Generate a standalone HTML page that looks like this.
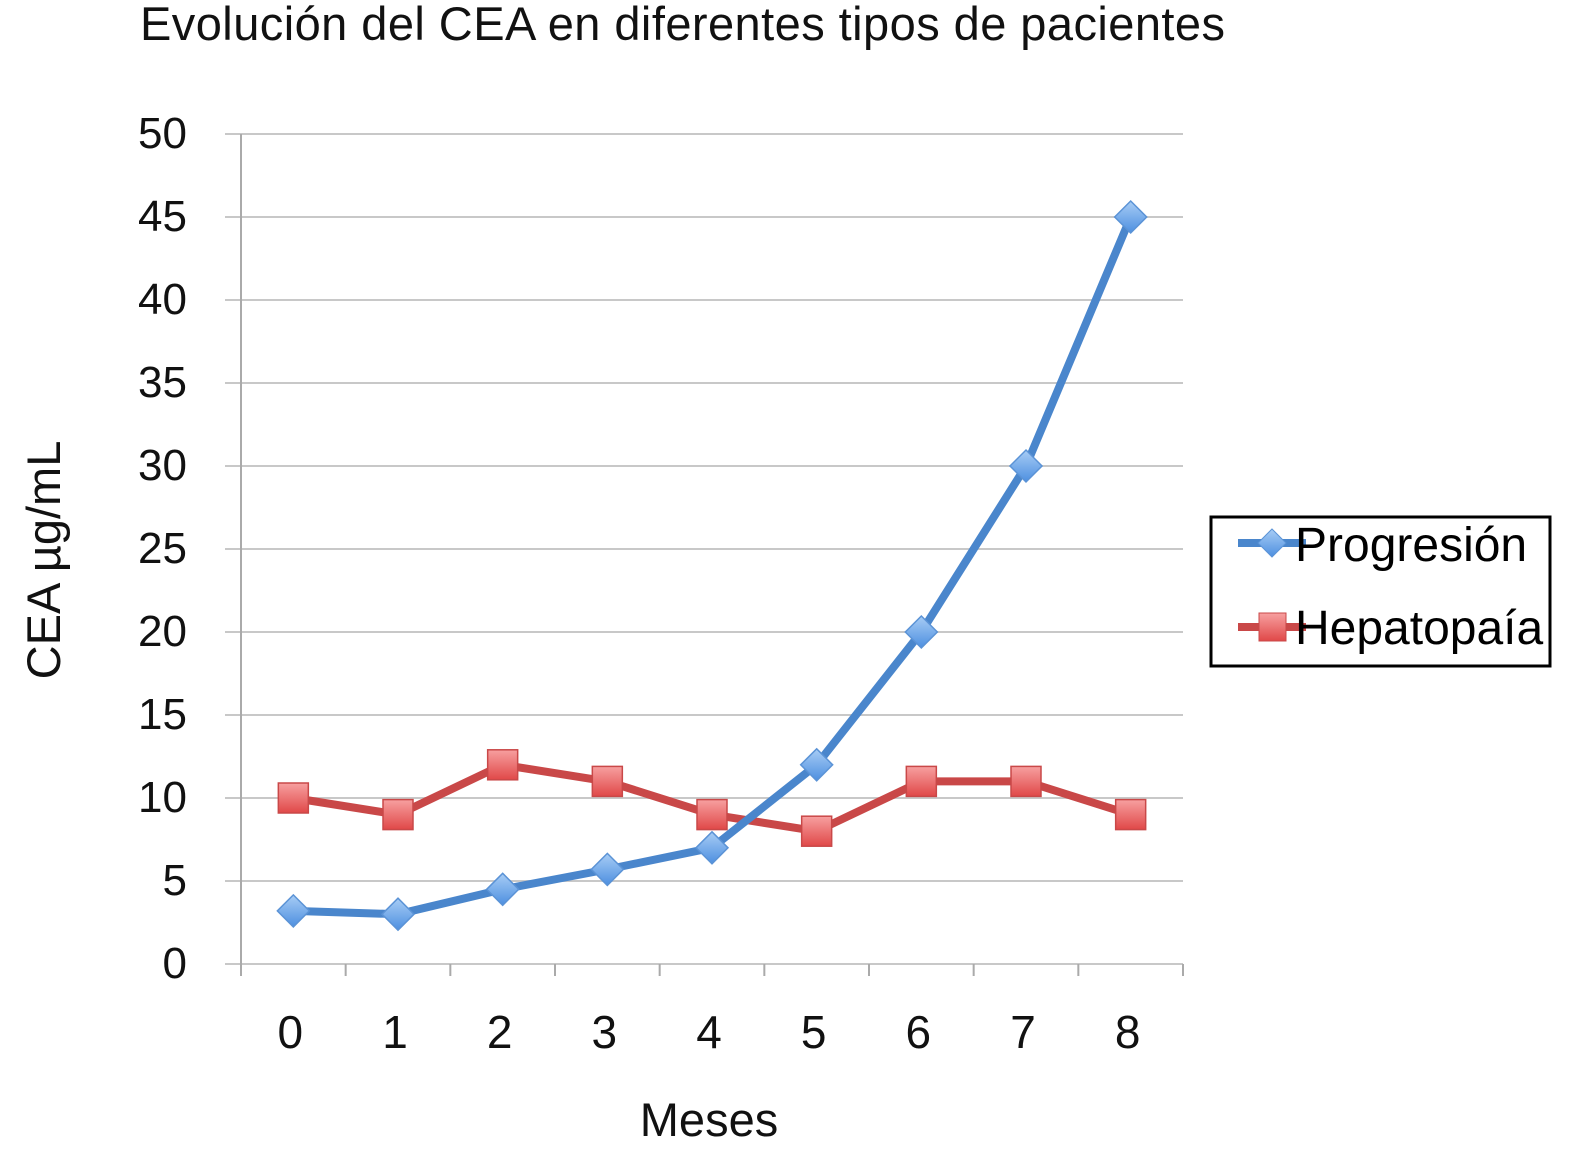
<!DOCTYPE html>
<html><head><meta charset="utf-8"><style>
body{margin:0;background:#fff;width:1583px;height:1158px;overflow:hidden;font-family:"Liberation Sans",sans-serif}
</style></head><body>
<svg width="1583" height="1158" id="svg" font-family="Liberation Sans, sans-serif">
<defs>
<linearGradient id="gr" x1="0" y1="0" x2="0" y2="1"><stop offset="0" stop-color="#f7a0a0"/><stop offset="1" stop-color="#e04848"/></linearGradient>
<linearGradient id="gb" x1="0" y1="0" x2="0" y2="1"><stop offset="0" stop-color="#a8cdf5"/><stop offset="1" stop-color="#4d8fe0"/></linearGradient>
</defs>
<text x="140" y="40" font-size="47" fill="#111" textLength="1085">Evolución del CEA en diferentes tipos de pacientes</text>
<text transform="translate(60,560) rotate(-90)" text-anchor="middle" font-size="47" fill="#111">CEA µg/mL</text>
<text x="709" y="1136" text-anchor="middle" font-size="47" fill="#111">Meses</text>
<g id="grid"></g><g id="series"></g>
<g>
<rect x="1211" y="517" width="339" height="149" fill="#fff" stroke="#000" stroke-width="3"/>
<g>
<line x1="1238" y1="543" x2="1306" y2="543" stroke="#4a86cc" stroke-width="8"/>
<path d="M1272 529 L1286 543 L1272 557 L1258 543Z" fill="url(#gb)" stroke="#5b93d6"/>
<text x="1295" y="561" font-size="48" fill="#000">Progresión</text></g>
<g>
<line x1="1238" y1="627" x2="1306" y2="627" stroke="#c94848" stroke-width="8"/>
<rect x="1259" y="613" width="27" height="28" fill="url(#gr)" stroke="#c94848"/>
<text x="1295" y="644" font-size="48" fill="#000">Hepatopaía</text></g>
</g>
</svg>
<script>
const categories=["0","1","2","3","4","5","6","7","8"];
const progresion=[3.2,3,4.5,5.7,7,12,20,30,45];
const hepatopaia=[10,9,12,11,9,8,11,11,9];
const yTicks=[0,5,10,15,20,25,30,35,40,45,50];
const NS="http://www.w3.org/2000/svg";
const x0=241,x1=1183,yBase=964,yTop=134,yMax=50;
const bw=(x1-x0)/categories.length;
const xs=i=>x0+bw*(i+0.5);
const ys=v=>yBase-(v/yMax)*(yBase-yTop);
function mk(t,a,p){const e=document.createElementNS(NS,t);for(const k in a)e.setAttribute(k,a[k]);p.appendChild(e);return e;}
const g=document.getElementById('grid'),s=document.getElementById('series');
yTicks.forEach(v=>{
 const l=mk('line',{x1:x0-16,x2:x1,y1:ys(v),y2:ys(v),stroke:'#c8c8c8','stroke-width':2},g);
 
 
 const t=mk('text',{x:187,y:ys(v)+14,'text-anchor':'end','font-size':44,fill:'#111'},g);t.textContent=v;
 
 
});
const ax=mk('line',{x1:x0,x2:x0,y1:yTop,y2:yBase+8,stroke:'#aaa','stroke-width':2},g);


for(let i=0;i<=categories.length;i++){const tk=mk('line',{x1:x0+bw*i,x2:x0+bw*i,y1:yBase,y2:yBase+12,stroke:'#aaa','stroke-width':2},g);
 
 }
categories.forEach((c,i)=>{const t=mk('text',{x:xs(i)-3,y:1048,'text-anchor':'middle','font-size':46,fill:'#111'},g);t.textContent=c;
 
 });
function series(vals,color,name,marker){
 const pl=mk('polyline',{points:vals.map((v,i)=>xs(i)+','+ys(v)).join(' '),fill:'none',stroke:color,'stroke-width':8,'stroke-linejoin':'round'},s);
 
 
 vals.forEach((v,i)=>{const x=xs(i),y=ys(v);let m;
  if(marker==='d')m=mk('path',{d:`M${x} ${y-16}L${x+16} ${y}L${x} ${y+16}L${x-16} ${y}Z`,fill:'url(#gb)',stroke:'#5b93d6','stroke-width':1.5},s);
  else m=mk('rect',{x:x-15,y:y-15,width:30,height:30,fill:'url(#gr)',stroke:'#c94848','stroke-width':1.5},s);
  
  });
}
series(hepatopaia,'#c94848','hepatopaia','s');
series(progresion,'#4a86cc','progresion','d');
</script>
</body></html>
